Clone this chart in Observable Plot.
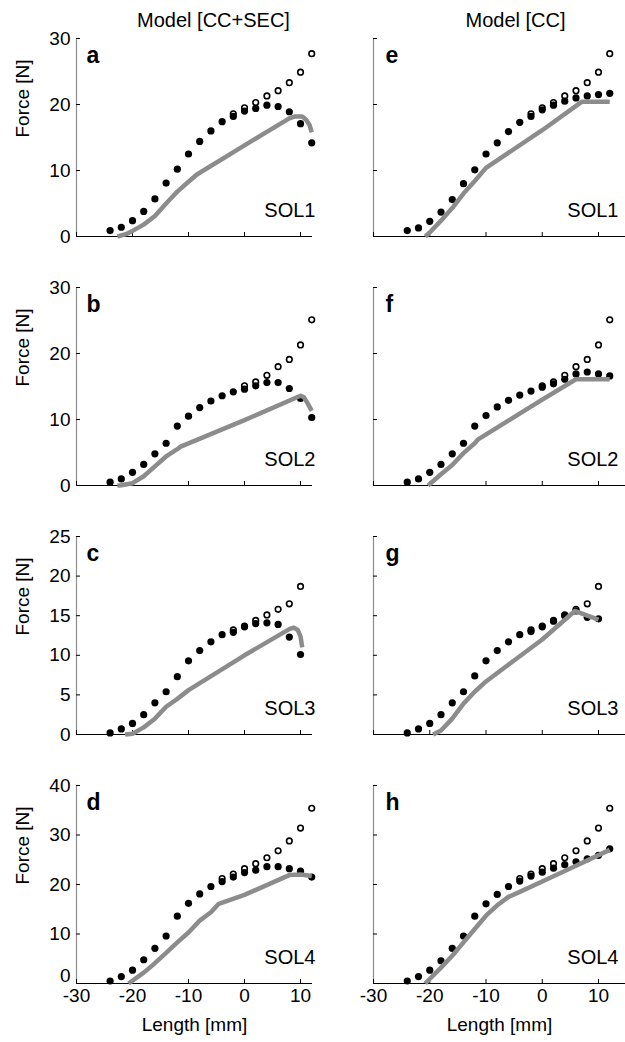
<!DOCTYPE html>
<html><head><meta charset="utf-8">
<script src="https://cdn.jsdelivr.net/npm/d3@7"></script>
<script src="https://cdn.jsdelivr.net/npm/@observablehq/plot@0.6"></script>
<style>
html,body{margin:0;padding:0;background:#fff;}
#fig{position:relative;width:625px;height:1042px;overflow:hidden;font-family:"Liberation Sans",Arial,Helvetica,sans-serif;}
#fig svg{position:absolute;}
</style></head><body><div id="fig"></div>
<script>
// ---- data ----
const columnTitles = ["Model [CC+SEC]", "Model [CC]"];
const muscles = ["SOL1", "SOL2", "SOL3", "SOL4"];
const xTicks = [-30, -20, -10, 0, 10];
const yTicks12 = [0, 10, 20, 30];
const yTicks3 = [0, 5, 10, 15, 20, 25];
const yTicks4 = [0, 10, 20, 30, 40];

const lengths = [-24,-22,-20,-18,-16,-14,-12,-10,-8,-6,-4,-2,0,2,4,6,8,10,12];
const lengthsSol3 = [-24,-22,-20,-18,-16,-14,-12,-10,-8,-6,-4,-2,0,2,4,6,8,10];

// measured total force (open circles), same in both columns
const sol1TotalX = [-2,0,2,4,6,8,10,12];
const sol1Total  = [18.6,19.5,20.3,21.3,22.1,23.3,24.9,27.7];
const sol2TotalX = [0,2,4,6,8,10,12];
const sol2Total  = [15.1,15.7,16.7,18.0,19.1,21.3,25.1];
const sol3TotalX = [-2,0,2,4,6,8,10];
const sol3Total  = [13.2,13.7,14.4,15.1,15.8,16.5,18.7];
const sol4TotalX = [-4,-2,0,2,4,6,8,10,12];
const sol4Total  = [21.2,22.1,23.2,24.2,25.4,26.8,28.8,31.4,35.4];

// active force (filled dots)
const aActive = [0.9,1.4,2.4,3.8,5.7,8.1,10.2,12.5,14.4,16.0,17.4,18.2,19.0,19.4,19.9,19.7,18.9,17.1,14.2];
const bActive = [0.5,1.0,2.0,3.2,4.8,6.4,9.0,10.5,11.8,12.8,13.6,14.2,14.6,15.1,15.6,15.6,14.7,13.2,10.3];
const cActive = [0.2,0.7,1.4,2.5,4.0,5.4,7.3,9.3,10.6,11.7,12.6,12.9,13.6,14.0,14.1,13.9,12.3,10.1];
const dActive = [0.5,1.4,2.7,4.8,7.1,9.6,13.6,16.2,18.1,19.6,20.6,21.5,22.4,22.9,23.6,23.6,23.2,22.7,21.5];
const eActive = [0.9,1.3,2.3,3.7,5.6,8.0,10.1,12.5,14.2,15.9,17.3,18.2,19.2,19.9,20.5,21.0,21.3,21.5,21.7];
const fActive = [0.5,1.0,2.0,3.2,4.8,6.4,9.0,10.6,11.9,12.9,13.7,14.3,14.9,15.4,16.1,16.9,17.2,16.9,16.6];
const gActive = [0.2,0.7,1.4,2.5,4.0,5.4,7.4,9.3,10.6,11.7,12.6,13.0,13.6,14.3,15.0,15.6,14.8,14.6];
const hActive = [0.5,1.4,2.7,4.6,7.1,9.6,13.6,16.1,18.0,19.6,20.7,21.7,22.5,23.3,24.0,24.6,25.2,25.9,27.2];

// model curves (grey lines)
const aModelX = [-22.7,-21,-20,-18,-16,-14,-12,-10,-8.5,0,8,9,10.3,11,11.6,12];
const aModelY = [0,0.4,0.85,1.8,3.1,5.0,6.8,8.3,9.4,13.8,17.9,18.2,18.2,17.7,16.9,15.8];
const bModelX = [-22.7,-22,-20,-18,-16,-14,-12,-11.4,0,10,10.6,11.3,12];
const bModelY = [0,0.05,0.35,1.4,2.9,4.4,5.5,5.9,9.9,13.6,13.4,12.4,11.3];
const cModelX = [-21.3,-20,-18,-16,-14,-12,-10,0,8,8.8,9.5,10,10.3];
const cModelY = [0,0.1,0.9,2.0,3.5,4.5,5.6,10.0,13.3,13.5,13.2,12.4,11.0];
const dModelX = [-20.7,-18,-16,-14,-12,-10,-8,-6,-4.6,0,8,10,12];
const dModelY = [0,2.2,4.1,6.2,8.3,10.3,12.7,14.4,16.1,17.9,21.9,22.0,21.7];
const eModelX = [-20.8,-20,-18,-16,-14,-12,-10,0,7,12];
const eModelY = [0,0.6,2.4,4.3,6.5,8.4,10.4,16.1,20.4,20.4];
const fModelX = [-20.3,-18,-16,-14,-12,-11.4,0,6,12];
const fModelY = [0,1.7,3.1,4.9,6.4,7.0,13.0,16.1,16.1];
const gModelX = [-19.4,-18,-16,-14,-12,-10,0,5.8,8,10];
const gModelY = [0,0.5,2.0,3.9,5.4,6.7,12.0,15.6,15.0,14.5];
const hModelX = [-20.8,-18,-16,-14,-12,-10,-8,-6,-4,0,6,12];
const hModelY = [0,3.2,5.6,8.3,11.0,13.7,15.8,17.5,18.5,20.6,23.8,27.0];

// ---- panel table built from the arrays ----
const panels = [
  {id:"a", col:0, row:0, yMax:30, yTicks:yTicks12, actX:lengths, act:aActive, totX:sol1TotalX, tot:sol1Total, mX:aModelX, mY:aModelY},
  {id:"b", col:0, row:1, yMax:30, yTicks:yTicks12, actX:lengths, act:bActive, totX:sol2TotalX, tot:sol2Total, mX:bModelX, mY:bModelY},
  {id:"c", col:0, row:2, yMax:25, yTicks:yTicks3, actX:lengthsSol3, act:cActive, totX:sol3TotalX, tot:sol3Total, mX:cModelX, mY:cModelY},
  {id:"d", col:0, row:3, yMax:40, yTicks:yTicks4, actX:lengths, act:dActive, totX:sol4TotalX, tot:sol4Total, mX:dModelX, mY:dModelY},
  {id:"e", col:1, row:0, yMax:30, yTicks:yTicks12, actX:lengths, act:eActive, totX:sol1TotalX, tot:sol1Total, mX:eModelX, mY:eModelY},
  {id:"f", col:1, row:1, yMax:30, yTicks:yTicks12, actX:lengths, act:fActive, totX:sol2TotalX, tot:sol2Total, mX:fModelX, mY:fModelY},
  {id:"g", col:1, row:2, yMax:25, yTicks:yTicks3, actX:lengthsSol3, act:gActive, totX:sol3TotalX, tot:sol3Total, mX:gModelX, mY:gModelY},
  {id:"h", col:1, row:3, yMax:40, yTicks:yTicks4, actX:lengths, act:hActive, totX:sol4TotalX, tot:sol4Total, mX:hModelX, mY:hModelY}
];

const FONT = '"Liberation Sans", Arial, Helvetica, sans-serif';
const fig = document.getElementById("fig");

for (const p of panels) {
  const left = p.col === 0;
  const bottom = p.row === 3;
  const W = left ? 320 : 315;
  const H = bottom ? 295 : 249;
  const plotH = 198;
  const mL = left ? 76 : 63, mR = left ? 8 : 0, mT = 38, mB = H - mT - plotH;
  const plotW = W - mL - mR;
  const act = p.actX.map((x, i) => ({x, y: p.act[i]}));
  const tot = p.totX.map((x, i) => ({x, y: p.tot[i]}));
  const model = p.mX.map((x, i) => ({x, y: p.mY[i]}));

  const marks = [
    Plot.ruleX([-30], {x: d => d, stroke: "#8c8c8c", strokeWidth: 1.2}),
    Plot.ruleY([0], {y: d => d, stroke: "#000", strokeWidth: 1}),
    Plot.tickX(xTicks, {x: d => d, insetTop: plotH - 4, stroke: "#000"}),
    Plot.tickY(p.yTicks, {y: d => d, insetRight: plotW - 4, stroke: "#000"}),
    Plot.dot(tot, {x: "x", y: "y", r: 2.8, stroke: "#000", strokeWidth: 1.6, fill: "#fff"}),
    Plot.dot(act, {x: "x", y: "y", r: 3.6, fill: "#000", stroke: null}),
    Plot.line(model, {x: "x", y: "y", stroke: "#8c8c8c", strokeWidth: 4.5, strokeLinejoin: "round", strokeLinecap: "butt"}),
    Plot.text([p.id], {text: d => d, frameAnchor: "top-left", textAnchor: "start", dx: left ? 10 : 12, dy: 8, fontSize: 23, fontWeight: "bold", fill: "#000"}),
    Plot.text([muscles[p.row]], {text: d => d, frameAnchor: "bottom-right", textAnchor: "end", dx: left ? 3 : -7, dy: -19.5, fontSize: 20, fill: "#000"})
  ];
  if (left) {
    const upper = bottom ? p.yTicks.filter(v => v !== 0) : p.yTicks;
    marks.push(Plot.text(upper, {y: d => d, text: d => String(d), frameAnchor: "left", textAnchor: "end", dx: -6, fontSize: 19, fill: "#000"}));
    if (bottom) {
      marks.push(Plot.text(p.yTicks.filter(v => v === 0), {y: d => d, text: d => String(d), frameAnchor: "left", textAnchor: "end", dx: -6, dy: -8, fontSize: 19, fill: "#000"}));
    }
    marks.push(Plot.text(["Force [N]"], {text: d => d, frameAnchor: "left", dx: -54, rotate: -90, fontSize: 19, fill: "#000"}));
  }
  if (bottom) {
    marks.push(Plot.text(xTicks, {x: d => d, text: d => String(d), frameAnchor: "bottom", dy: 18, fontSize: 19, fill: "#000"}));
    marks.push(Plot.text(["Length [mm]"], {text: d => d, frameAnchor: "bottom", dy: 47, fontSize: 19, fill: "#000"}));
  }
  if (p.row === 0) {
    marks.push(Plot.text([columnTitles[p.col]], {text: d => d, frameAnchor: "top", dx: left ? 19 : 16, dy: -26, fontSize: 20, fill: "#000"}));
  }

  const svg = Plot.plot({
    width: W, height: H,
    marginLeft: mL, marginRight: mR, marginTop: mT, marginBottom: mB,
    x: {domain: left ? [-30, 12.14] : [-30, 14.8], label: null, axis: null},
    y: {domain: [0, p.yMax], label: null, axis: null},
    style: {background: "transparent", overflow: "visible", fontFamily: FONT, fontSize: "15px", color: "#000"},
    marks
  });
  svg.style.left = (left ? 0 : 310) + "px";
  svg.style.top = (249 * p.row) + "px";
  fig.appendChild(svg);
}
</script>
</body></html>
